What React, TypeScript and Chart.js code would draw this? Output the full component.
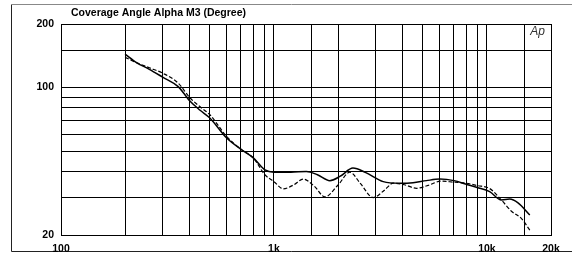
import React, { useEffect, useRef } from "react";
import { Chart, registerables } from "chart.js";

Chart.register(...registerables);

const titleText = "Coverage Angle Alpha M3 (Degree)";
const logoText = "Ap";

const solidFreq = [200, 227, 260, 300, 355, 404, 450, 500, 600, 705, 800, 907, 1000, 1200, 1420, 1600, 1830, 2050, 2350, 2700, 3260, 3900, 4500, 5200, 6000, 7000, 8000, 9000, 10300, 11700, 12800, 14000, 15900];
const solidVals = [144, 131, 122, 112, 101, 86, 78, 71.7, 57.6, 50.7, 46.4, 40.7, 39.7, 39.7, 40, 38.6, 36.2, 38.0, 41.5, 39.5, 35.8, 35.2, 35.4, 36.2, 36.8, 36.2, 34.8, 33.6, 32.1, 29.3, 29.6, 28.4, 24.9];

const dashFreq = [200, 227, 260, 300, 355, 404, 450, 500, 600, 705, 800, 907, 1000, 1106, 1240, 1373, 1550, 1735, 2000, 2274, 2550, 2926, 3300, 3631, 4100, 4677, 5300, 6100, 7000, 8000, 9000, 10300, 11700, 13000, 14500, 15900];
const dashVals = [139, 131, 124, 117, 105, 89.2, 81, 74.3, 58.6, 50.7, 46.4, 38.6, 35.8, 33.1, 34.6, 36.8, 34.0, 30.3, 34.5, 39.7, 35.0, 30.1, 32.6, 35.2, 34.6, 33.3, 34.4, 36.0, 35.6, 35.2, 34.3, 33.2, 29.3, 26.0, 24.0, 21.1];

const xLabelValues = [100, 1000, 10000, 20000];
const xLabelTexts = ["100", "1k", "10k", "20k"];
const yLabelValues = [20, 100, 200];
const yLabelTexts = ["20", "100", "200"];

const FONT = "'Liberation Sans', Arial, sans-serif";

const decorPlugin = {
  id: "decor",
  beforeDraw(chart: any) {
    const ctx = chart.ctx;
    ctx.save();
    ctx.strokeStyle = "#222";
    ctx.lineWidth = 1;
    ctx.beginPath();
    ctx.moveTo(11.5, 4.5);
    ctx.lineTo(11.5, 251.5);
    ctx.lineTo(572, 251.5);
    ctx.stroke();
    ctx.strokeStyle = "#888";
    ctx.beginPath();
    ctx.moveTo(11, 4.5);
    ctx.lineTo(572, 4.5);
    ctx.stroke();
    ctx.restore();
  },
  afterDraw(chart: any) {
    const ctx = chart.ctx;
    const area = chart.chartArea;
    ctx.save();
    ctx.fillStyle = "#000";
    ctx.font = `bold 10.5px ${FONT}`;
    ctx.textAlign = "left";
    ctx.textBaseline = "middle";
    ctx.fillText(titleText, 71, 13);
    ctx.fillStyle = "#333";
    ctx.font = `italic 12px ${FONT}`;
    ctx.textAlign = "right";
    ctx.fillText(logoText, area.right - 6, area.top + 8);
    ctx.restore();
  },
};

export default function App() {
  const ref = useRef<HTMLCanvasElement | null>(null);
  useEffect(() => {
    if (!ref.current) return;
    const chart = new Chart(ref.current, {
      type: "line",
      data: {
        datasets: [
          {
            label: "solid",
            data: solidFreq.map((f, i) => ({ x: f, y: solidVals[i] })),
            borderColor: "#000",
            borderWidth: 1.5,
            pointRadius: 0,
            cubicInterpolationMode: "monotone",
            fill: false,
          },
          {
            label: "dashed",
            data: dashFreq.map((f, i) => ({ x: f, y: dashVals[i] })),
            borderColor: "#000",
            borderWidth: 1.2,
            borderDash: [4, 2],
            pointRadius: 0,
            cubicInterpolationMode: "monotone",
            fill: false,
          },
        ],
      },
      options: {
        responsive: false,
        animation: false,
        devicePixelRatio: 1,
        layout: { padding: { left: 0, top: 24, right: 21, bottom: 0 } },
        plugins: { legend: { display: false }, tooltip: { enabled: false }, title: { display: false } },
        scales: {
          x: {
            type: "logarithmic",
            min: 100,
            max: 20000,
            afterFit: (s: any) => { s.height = 18; },
            grid: { color: "#000", lineWidth: 1, drawTicks: false },
            border: { display: true, color: "#000", width: 1 },
            ticks: {
              autoSkip: false,
              maxRotation: 0,
              padding: 8,
              color: "#000",
              font: { family: FONT, weight: "bold", size: 10.5 },
              callback: (v: any) => {
                const i = xLabelValues.findIndex((t) => Math.abs(t - Number(v)) < 1e-6);
                return i >= 0 ? xLabelTexts[i] : "";
              },
            },
          },
          y: {
            type: "logarithmic",
            min: 20,
            max: 200,
            afterFit: (s: any) => { s.width = 61; },
            grid: { color: "#000", lineWidth: 1, drawTicks: false },
            border: { display: true, color: "#000", width: 1 },
            ticks: {
              autoSkip: false,
              padding: 7,
              color: "#000",
              font: { family: FONT, weight: "bold", size: 10.5 },
              callback: (v: any) => {
                const i = yLabelValues.findIndex((t) => Math.abs(t - Number(v)) < 1e-6);
                return i >= 0 ? yLabelTexts[i] : "";
              },
            },
          },
        },
      } as any,
      plugins: [decorPlugin],
    });
    return () => chart.destroy();
  }, []);
  return (
    <canvas
      ref={ref}
      width={572}
      height={253}
      style={{ position: "fixed", left: 0, top: 0, width: 572, height: 253, background: "#fff" }}
    />
  );
}
